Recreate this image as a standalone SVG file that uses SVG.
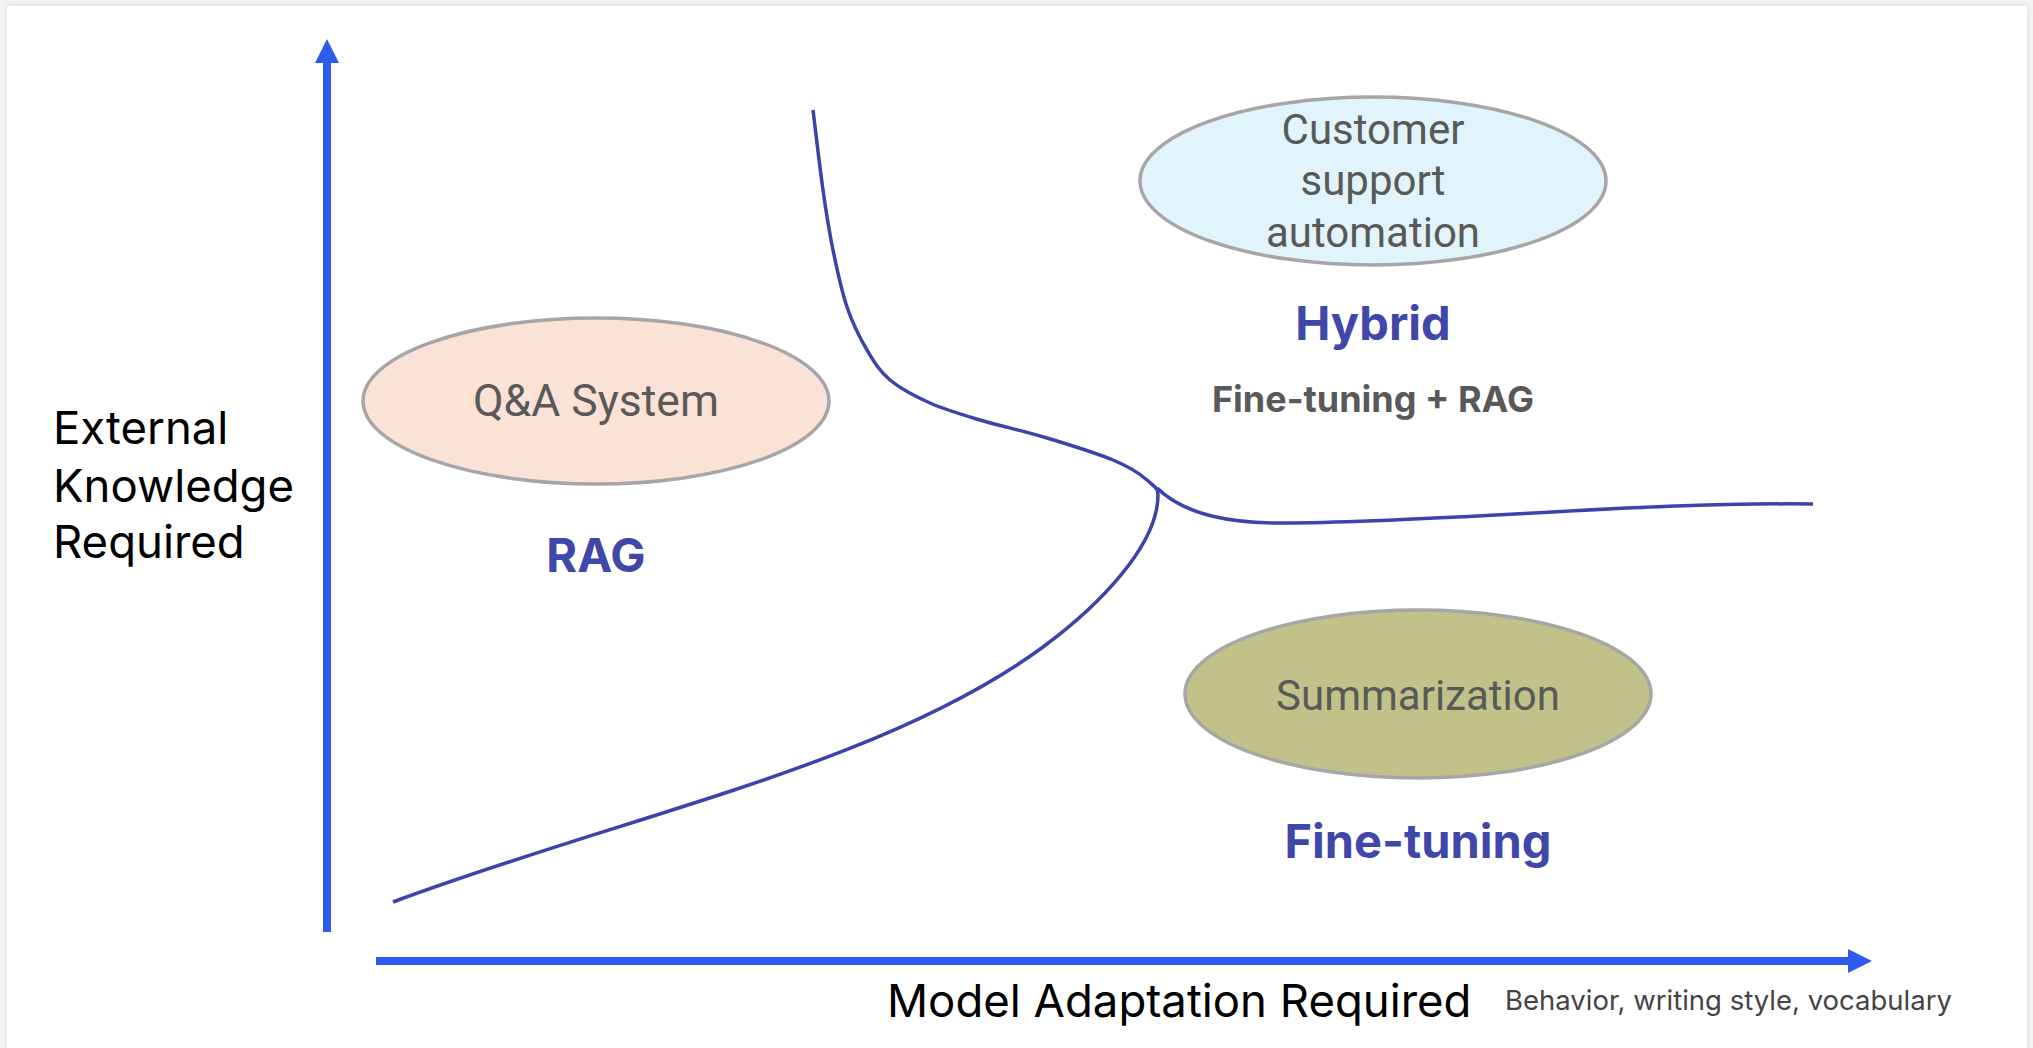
<svg xmlns="http://www.w3.org/2000/svg" width="2033" height="1048" viewBox="0 0 2033 1048">
  <defs>
    <filter id="shadow" x="-5%" y="-5%" width="110%" height="110%">
      <feDropShadow dx="0" dy="0" stdDeviation="3" flood-color="#000" flood-opacity="0.12"/>
    </filter>
    <marker id="arrow" viewBox="0 0 24 24" markerWidth="24" markerHeight="24" refX="0" refY="12" orient="auto" markerUnits="userSpaceOnUse">
      <path d="M0,0 L24,12 L0,24 Z" fill="#2e5bef"/>
    </marker>
    <style>
      .axis { stroke: #2e5bef; stroke-width: 8; fill: none; }
      .curve { stroke: #3c43a9; stroke-width: 3.5; fill: none; stroke-linecap: butt; }
      .oval { stroke: #a6a6a6; stroke-width: 3.5; }
      .otext { font-family: Roboto, "Liberation Sans", sans-serif; font-size: 42px; fill: #595959; text-anchor: middle; }
      .otext.big { font-size: 44.5px; }
      .region { font-family: Inter, Roboto, "Liberation Sans", sans-serif; font-weight: bold; fill: #3f47a9; text-anchor: middle; }
      .axlabel { font-family: Inter, "Liberation Sans", sans-serif; font-size: 45.5px; fill: #000; }
    </style>
  </defs>
  <rect x="0" y="0" width="2033" height="1048" fill="#f4f4f4"/>
  <rect x="7" y="6" width="2020" height="1060" fill="#ffffff" filter="url(#shadow)"/>

  <g id="axes">
    <line id="y-axis" class="axis" x1="327" y1="932" x2="327" y2="63" marker-end="url(#arrow)"/>
    <line id="x-axis" class="axis" x1="376" y1="961" x2="1848" y2="961" marker-end="url(#arrow)"/>
  </g>

  <g id="connectors">
    <path class="curve" d="M813,110 C814.7,123.3 819.7,166.7 823,190 C826.3,213.3 829,230.5 833,250 C837,269.5 841.3,290.3 847,307 C852.7,323.7 859.8,337.8 867,350 C874.2,362.2 879.5,371.2 890,380 C900.5,388.8 915,396.3 930,403 C945,409.7 960.5,414.2 980,420 C999.5,425.8 1024.8,431.3 1047,438 C1069.2,444.7 1096.3,453 1113,460 C1129.7,467 1139.5,473.3 1147,480 C1154.5,486.7 1158,488 1158,495 C1158,545 1099.4,605.6 1043,647 C881.8,765.4 628,814.5 393,902"/>
    <path class="curve" d="M1157,488 C1185,515 1230,524 1291,523 C1465,521 1639,502 1813,504"/>
  </g>

  <g id="node-qa">
    <ellipse class="oval" cx="596" cy="401" rx="233" ry="83" fill="#fae3d6"/>
    <text class="otext big" x="596" y="416">Q&amp;A System</text>
  </g>
  <g id="node-customer">
    <ellipse class="oval" cx="1373" cy="181" rx="233" ry="84" fill="#e2f4fb"/>
    <text class="otext" x="1373" y="144">Customer</text>
    <text class="otext" x="1373" y="195">support</text>
    <text class="otext" x="1373" y="247">automation</text>
  </g>
  <g id="node-summarization">
    <ellipse class="oval" cx="1418" cy="694" rx="233" ry="84" fill="#c0c28a"/>
    <text class="otext" x="1418" y="710">Summarization</text>
  </g>

  <g id="label-rag">
    <text class="region" x="596" y="572" font-size="47">RAG</text>
  </g>
  <g id="label-hybrid">
    <text class="region" x="1373" y="340" font-size="47">Hybrid</text>
    <text x="1373" y="412" font-family="Inter, Roboto, 'Liberation Sans', sans-serif" font-weight="bold" font-size="36" fill="#595959" text-anchor="middle">Fine-tuning + RAG</text>
  </g>
  <g id="label-finetuning">
    <text class="region" x="1418" y="858" font-size="47">Fine-tuning</text>
  </g>

  <g id="label-y">
    <text class="axlabel" x="53" y="444">External</text>
    <text class="axlabel" x="53" y="502">Knowledge</text>
    <text class="axlabel" x="53" y="558">Required</text>
  </g>
  <g id="label-x">
    <text class="axlabel" x="887" y="1017">Model Adaptation Required</text>
    <text x="1505" y="1010" font-family="Inter, 'Liberation Sans', sans-serif" font-size="27.5" fill="#444444">Behavior, writing style, vocabulary</text>
  </g>
</svg>
